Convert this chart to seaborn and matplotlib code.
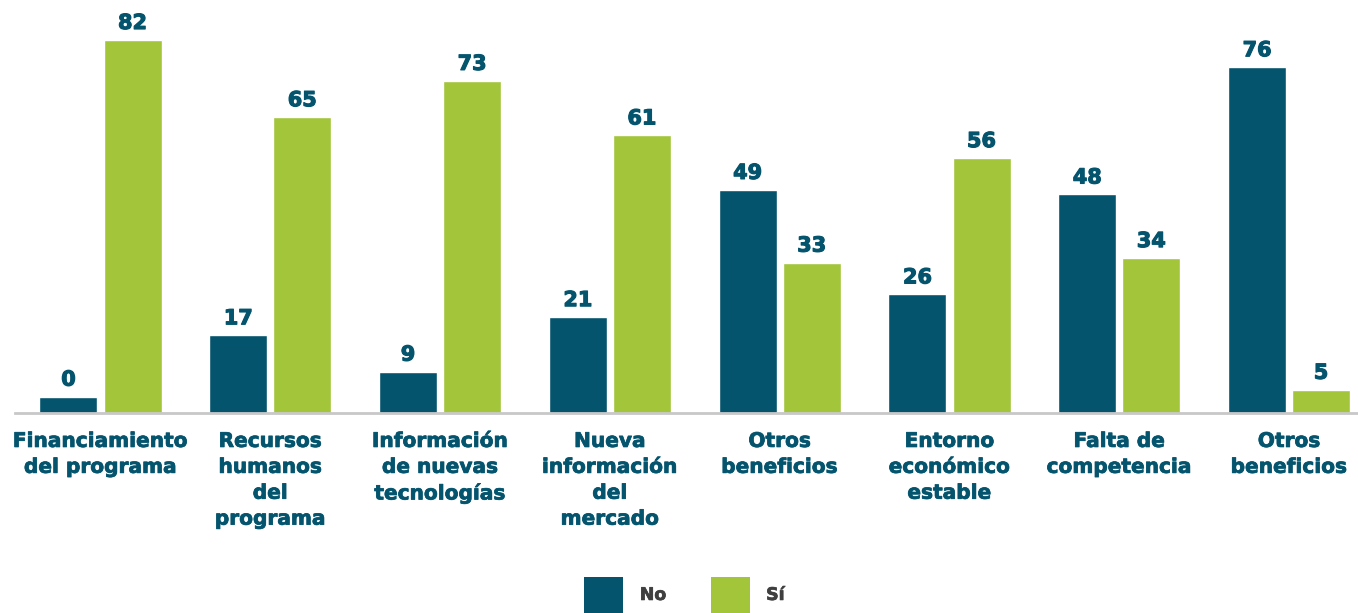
import numpy as np
import pandas as pd
import matplotlib
matplotlib.use("Agg")
import matplotlib.pyplot as plt
import matplotlib.patheffects as pe
import seaborn as sns
from matplotlib.patches import Patch

categories = ["Financiamiento\ndel programa", "Recursos\nhumanos\ndel\nprograma",
              "Información\nde nuevas\ntecnologías", "Nueva\ninformación\ndel\nmercado",
              "Otros\nbeneficios", "Entorno\neconómico\nestable",
              "Falta de\ncompetencia", "Otros\nbeneficios"]
no_values = [0, 17, 9, 21, 49, 26, 48, 76]
si_values = [82, 65, 73, 61, 33, 56, 34, 5]
series_names = ["No", "Sí"]

C_NO = "#04546E"
C_SI = "#A2C53A"
MIN_STUB = 3.5  # zero-valued bars are drawn as a small stub in the original

sns.set_theme(style="white")
plt.rcParams["font.family"] = ["DejaVu Sans"]

n = len(categories)
df = pd.DataFrame({
    "cat": list(range(n)) * 2,
    "serie": [series_names[0]] * n + [series_names[1]] * n,
    "valor": no_values + si_values,
})
df["alto"] = np.maximum(df["valor"], MIN_STUB)

fig = plt.figure(figsize=(13.58, 6.13), dpi=100)
ax = fig.add_axes([15 / 1358, (613 - 412.5) / 613, 1 - 15 / 1358, 412.5 / 613])

sns.barplot(data=df, x="cat", y="alto", hue="serie", hue_order=series_names,
            palette=[C_NO, C_SI], width=0.754, gap=0.094, saturation=1,
            legend=False, ax=ax, errorbar=None)

for cont, vals in zip(ax.containers, [no_values, si_values]):
    texts = ax.bar_label(cont, labels=[str(v) for v in vals], padding=5,
                         fontsize=15, fontweight="bold", color=C_NO)
    for t in texts:
        t.set_path_effects([pe.withStroke(linewidth=0.8, foreground=C_NO)])

ax.set_ylim(0, 412.5 / 4.543)
ax.set_xlim((15 - 100.5) / 169.8, (1358 - 100.5) / 169.8)
ax.set_xticks(range(n))
ax.set_xticklabels(categories, fontsize=14.5, fontweight="bold", color=C_NO,
                   linespacing=1.46, ha="center", va="top")
for t in ax.get_xticklabels():
    t.set_path_effects([pe.withStroke(linewidth=0.55, foreground=C_NO)])
ax.tick_params(axis="x", length=0, pad=14)
ax.set_yticks([])
ax.set_xlabel("")
ax.set_ylabel("")
for s in ["top", "left", "right"]:
    ax.spines[s].set_visible(False)
ax.spines["bottom"].set_color("#C8C8C8")
ax.spines["bottom"].set_linewidth(2)

handles = [Patch(facecolor=C_NO, edgecolor="none"), Patch(facecolor=C_SI, edgecolor="none")]
leg = fig.legend(handles, series_names, loc="lower center", bbox_to_anchor=(0.504, -0.025),
                 ncol=2, frameon=False, handlelength=2.25, handleheight=2.8,
                 handletextpad=0.95, columnspacing=2.55,
                 prop={"size": 12.5, "weight": "bold"}, labelcolor="#3F3F3F")
for t in leg.get_texts():
    t.set_path_effects([pe.withStroke(linewidth=0.5, foreground="#3F3F3F")])

fig.savefig("out.png", dpi=100)
